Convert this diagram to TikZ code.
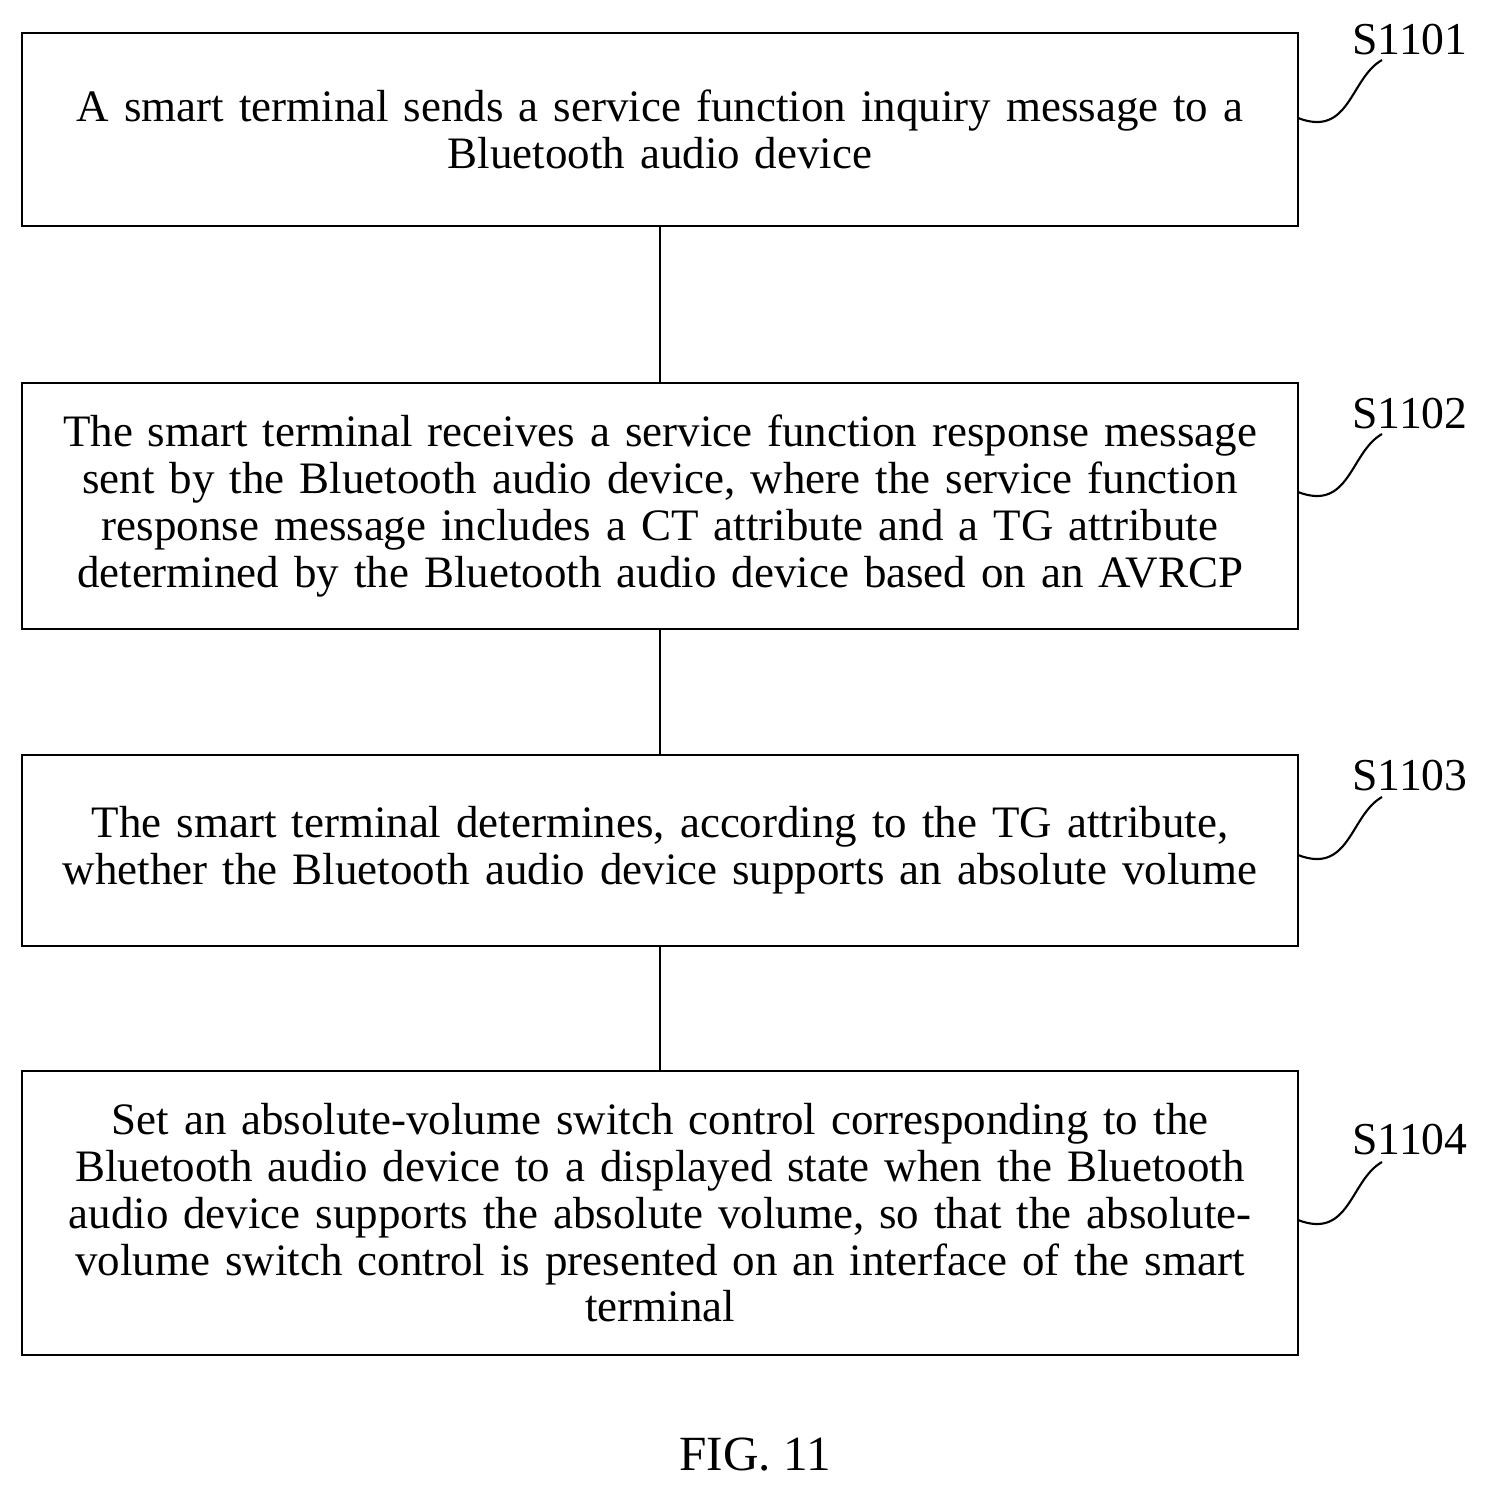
\documentclass[tikz,border=0pt]{standalone}
\usepackage{fontspec}
\setmainfont{Liberation Serif}
\begin{document}
\begin{tikzpicture}[x=0.02cm,y=-0.02cm]
\tikzstyle{stepbox}=[draw, line width=1.2pt, minimum width=25.52cm, text width=25.4cm,
  align=center, font=\fontsize{25.6}{26.6}\selectfont, inner sep=0pt]
\tikzstyle{tag}=[font=\fontsize{26}{26}\selectfont, inner sep=0pt]
\tikzstyle{link}=[line width=1.2pt]
\useasboundingbox (0,0) rectangle (1489,1495);
\node[stepbox, minimum height=3.86cm] (s1) at (660,129.5)
  {A smart terminal sends a service function inquiry message to a\\Bluetooth audio device};
\node[stepbox, minimum height=4.92cm] (s2) at (660,506)
  {The smart terminal receives a service function response message\\sent by the Bluetooth audio device, where the service function\\response message includes a CT attribute and a TG attribute\\determined by the Bluetooth audio device based on an AVRCP};
\node[stepbox, minimum height=3.82cm] (s3) at (660,850.5)
  {The smart terminal determines, according to the TG attribute,\\whether the Bluetooth audio device supports an absolute volume};
\node[stepbox, minimum height=5.68cm] (s4) at (660,1213)
  {Set an absolute-volume switch control corresponding to the\\Bluetooth audio device to a displayed state when the Bluetooth\\audio device supports the absolute volume, so that the absolute-\\volume switch control is presented on an interface of the smart\\terminal};
\draw[link] (s1) -- (s2);
\draw[link] (s2) -- (s3);
\draw[link] (s3) -- (s4);
% step labels
\foreach \n/\y/\t in {1/118/40, 2/492/414, 3/855/776, 4/1220/1140}{
  \node[tag] (l\n) at (1410,\t) {S110\n};
  \coordinate (e\n) at (1298,\y);
  \draw[link] (e\n) .. controls (1350,\y+20) and (1350,\y-40) .. (1382,\y-58);
}
\node[font=\fontsize{28}{28}\selectfont] (fig) at (755,1455) {FIG. 11};
\end{tikzpicture}
\end{document}
